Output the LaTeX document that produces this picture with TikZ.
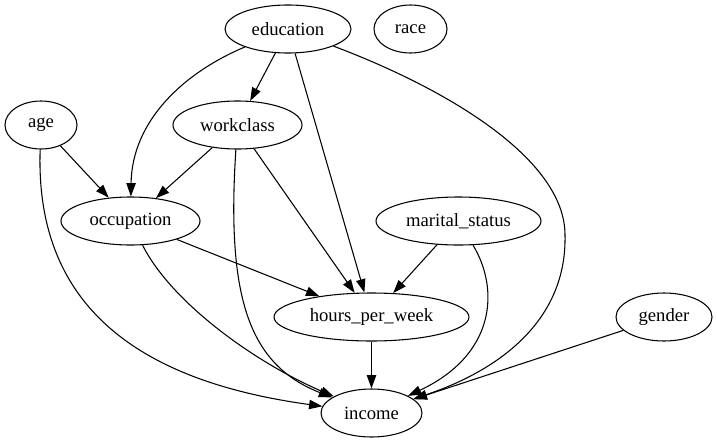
\documentclass[tikz,border=0pt]{standalone}
\usepackage{fontspec}
\setmainfont{Liberation Serif}
\usetikzlibrary{arrows.meta,shapes.geometric}

\begin{document}
\begin{tikzpicture}[
    x=0.75pt, y=-0.75pt,
    var/.style={ellipse, draw, line width=0.8pt, inner sep=0pt, minimum height=36pt,
                font=\fontsize{14}{16}\selectfont},
    edge/.style={-{Triangle[length=10pt,width=7pt]}, line width=0.8pt},
]
    \useasboundingbox (0,0) rectangle (717,443);

    % variables (rows as laid out by dot)
    \node[var, minimum width=94.5pt]  (education) at (288,29)   {\raisebox{-1.5pt}{education}};
    \node[var, minimum width=54.75pt] (race)      at (410.5,29) {\raisebox{-1.5pt}{race}};
    \node[var, minimum width=54pt]    (age)       at (41,125)   {\raisebox{-1.5pt}{age}};
    \node[var, minimum width=96.75pt] (workclass) at (237.5,125) {\raisebox{-1.5pt}{workclass}};
    \node[var, minimum width=104.25pt] (occupation) at (130.5,221) {\raisebox{-1.5pt}{occupation}};
    \node[var, minimum width=123.75pt] (marital) at (458.5,221) {\raisebox{-1.5pt}{marital\_status}};
    \node[var, minimum width=146.25pt] (hours) at (371.5,317) {\raisebox{-1.5pt}{hours\_per\_week}};
    \node[var, minimum width=72pt]    (gender)    at (664,317)  {\raisebox{-1.5pt}{gender}};
    \node[var, minimum width=75.75pt] (income)    at (371.5,413) {\raisebox{-1.5pt}{income}};

    % education
    \draw[edge] (education) -- (workclass);
    \draw[edge] (education) .. controls (185,72) and (132,120) .. (occupation);
    \draw[edge] (education) -- (hours);
    \draw[edge] (education) .. controls (450,90) and (565,160) .. (565,235)
                            .. controls (567,320) and (500,370) .. (income);

    % age
    \draw[edge] (age) -- (occupation);
    \draw[edge] (age) .. controls (35,300) and (130,380) .. (income);

    % workclass
    \draw[edge] (workclass) -- (occupation);
    \draw[edge] (workclass) -- (hours);
    \draw[edge] (workclass) .. controls (226,300) and (250,365) .. (income);

    % occupation
    \draw[edge] (occupation) -- (hours);
    \draw[edge] (occupation) .. controls (170,300) and (250,360) .. (income);

    % marital status
    \draw[edge] (marital) -- (hours);
    \draw[edge] (marital) .. controls (500,290) and (495,355) .. (income);

    % hours, gender
    \draw[edge] (hours) -- (income);
    \draw[edge] (gender) -- (income);
\end{tikzpicture}
\end{document}
